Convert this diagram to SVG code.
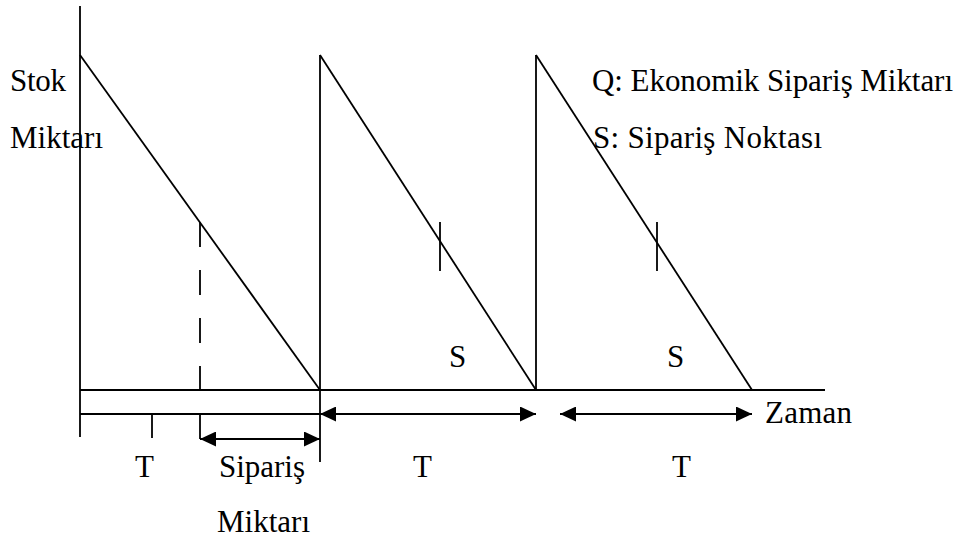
<svg xmlns="http://www.w3.org/2000/svg" width="971" height="539" viewBox="0 0 971 539">
  <defs>
    <marker id="ah" viewBox="0 0 16 15" refX="16" refY="7.5" markerWidth="16" markerHeight="15" markerUnits="userSpaceOnUse" orient="auto-start-reverse">
      <path d="M0,0 L16,7.5 L0,15 Z" fill="#000"/>
    </marker>
    <style>
      .ln { stroke: #000; stroke-width: 1.8; fill: none; }
      .dash { stroke-dasharray: 25 23; }
      .tx { font-family: "Liberation Serif", "Times New Roman", serif; font-size: 31px; fill: #000; }
    </style>
  </defs>
  <rect width="971" height="539" fill="#fff"/>

  <g id="axes">
    <line class="ln" x1="80" y1="6" x2="80" y2="437"/>
    <line class="ln" x1="80" y1="390" x2="825" y2="390"/>
    <line class="ln" x1="80" y1="414" x2="320" y2="414"/>
  </g>

  <g id="sawtooth">
    <line class="ln" x1="80" y1="55" x2="320" y2="390"/>
    <line class="ln" x1="320" y1="462" x2="320" y2="55"/>
    <line class="ln" x1="320" y1="55" x2="536" y2="390"/>
    <line class="ln" x1="536" y1="390" x2="536" y2="55"/>
    <line class="ln" x1="536" y1="55" x2="752" y2="390"/>
  </g>

  <g id="ticks">
    <line class="ln dash" x1="200" y1="222" x2="200" y2="390"/>
    <line class="ln" x1="200" y1="414" x2="200" y2="439"/>
    <line class="ln" x1="152" y1="414" x2="152" y2="438"/>
    <line class="ln" x1="440" y1="222" x2="440" y2="271"/>
    <line class="ln" x1="657" y1="222" x2="657" y2="271"/>
  </g>

  <g id="connectors">
    <line class="ln" x1="200" y1="439" x2="320" y2="439" marker-start="url(#ah)" marker-end="url(#ah)"/>
    <line class="ln" x1="320" y1="414" x2="536" y2="414" marker-start="url(#ah)" marker-end="url(#ah)"/>
    <line class="ln" x1="560" y1="414" x2="752" y2="414" marker-start="url(#ah)" marker-end="url(#ah)"/>
  </g>

  <g id="labels">
    <text class="tx" x="10" y="91" textLength="56" lengthAdjust="spacing">Stok</text>
    <text class="tx" x="10" y="148" textLength="93" lengthAdjust="spacing">Miktarı</text>
    <text class="tx" x="592" y="91" textLength="361" lengthAdjust="spacing">Q: Ekonomik Sipariş Miktarı</text>
    <text class="tx" x="593" y="148" textLength="229" lengthAdjust="spacing">S: Sipariş Noktası</text>
    <text class="tx" x="449" y="367">S</text>
    <text class="tx" x="667" y="367">S</text>
    <text class="tx" x="765" y="423" textLength="87" lengthAdjust="spacing">Zaman</text>
    <text class="tx" x="135" y="477">T</text>
    <text class="tx" x="219" y="477" textLength="86" lengthAdjust="spacing">Sipariş</text>
    <text class="tx" x="217" y="532" textLength="93" lengthAdjust="spacing">Miktarı</text>
    <text class="tx" x="413" y="477">T</text>
    <text class="tx" x="672" y="477">T</text>
  </g>
</svg>
